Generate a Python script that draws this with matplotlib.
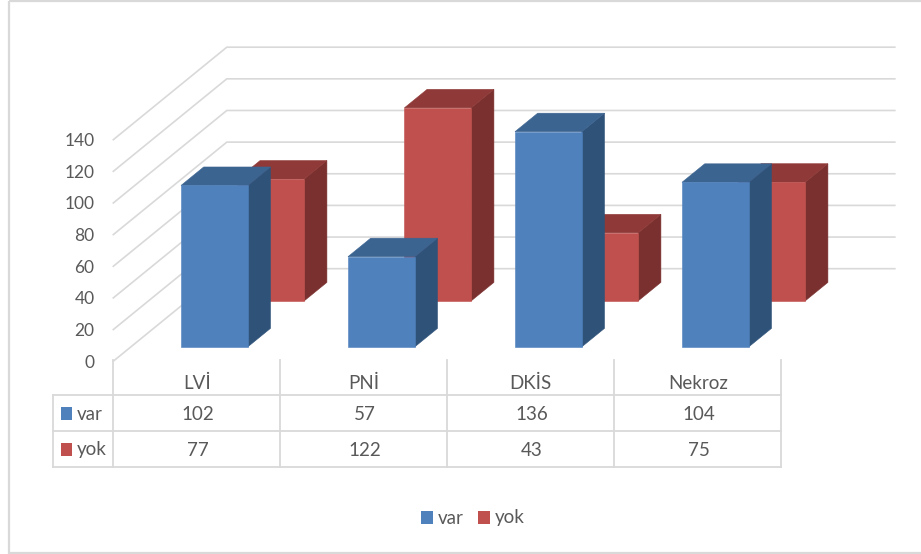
import matplotlib
matplotlib.use('Agg')
import matplotlib.pyplot as plt
from matplotlib.patches import Polygon, Rectangle

plt.rcParams['font.family'] = ['Lato', 'DejaVu Sans']

# Data
categories = ['LVİ', 'PNİ', 'DKİS', 'Nekroz']
var_values = [102, 57, 136, 104]
yok_values = [77, 122, 43, 75]
value_ticks = [0, 20, 40, 60, 80, 100, 120, 140]

# Colours
grid_color = '#D9D9D9'
text_color = '#595959'
var_colors = ('#4F81BD', '#3C6491', '#2F5279')  # front, top, side
yok_colors = ('#C0504D', '#8F3A38', '#7A302E')

# Oblique depth of the floor, in category and value units
depth_x = 113.5 / 167
depth_y = 92.5 / 1.582
bar_left = 0.3
bar_width = 0.4
bar_depth = 0.2


def shift(x, v, z):
    return x + z * depth_x, v + z * depth_y


def draw_bar(ax, i, value, z, colors):
    x0, x1 = i + bar_left, i + bar_left + bar_width
    z0, z1 = z, z + bar_depth
    front = [shift(x0, 0, z0), shift(x1, 0, z0), shift(x1, value, z0), shift(x0, value, z0)]
    top = [shift(x0, value, z0), shift(x1, value, z0), shift(x1, value, z1), shift(x0, value, z1)]
    side = [shift(x1, 0, z0), shift(x1, 0, z1), shift(x1, value, z1), shift(x1, value, z0)]
    for pts, c in zip((side, top, front), (colors[2], colors[1], colors[0])):
        ax.add_patch(Polygon(pts, closed=True, facecolor=c, edgecolor=c, lw=0.4,
                             clip_on=False, zorder=3))


fig = plt.figure(figsize=(9.21, 5.54), dpi=100, facecolor='white')

# Main axes: the front edge of the floor
ax = fig.add_axes([113.3 / 921, (554 - 361.2) / 554, 668 / 921, 221.5 / 554])
ax.patch.set_visible(False)
ax.set_xlim(0, 4)
ax.set_ylim(0, 140)
for s in ax.spines.values():
    s.set_visible(False)
ax.set_yticks(value_ticks)
ax.set_xticks([i + 0.5 for i in range(4)])
ax.set_xticklabels(categories)
ax.tick_params(axis='y', length=0, pad=13.5, labelsize=12.5, labelcolor=text_color)
ax.tick_params(axis='x', length=0, pad=10, labelsize=13.5, labelcolor=text_color)

# Gridlines run along the side wall and then across the back wall
for v in value_ticks:
    ax.plot([0, depth_x, 4 + depth_x], [v, v + depth_y, v + depth_y], color=grid_color,
            lw=1.2, clip_on=False, zorder=1, solid_joinstyle='miter')

for i, v in enumerate(yok_values):
    draw_bar(ax, i, v, 0.652, yok_colors)
for i, v in enumerate(var_values):
    draw_bar(ax, i, v, 0.155, var_colors)

# Overlay in pixel units for the frame, data table and legend
over = fig.add_axes([0, 0, 1, 1])
over.patch.set_visible(False)
over.set_xlim(0, 921)
over.set_ylim(554, 0)
over.axis('off')

over.add_patch(Rectangle((9, 1), 920, 551.8, fill=False, edgecolor=grid_color, lw=1.6))

col_edges = [113 + 167 * i for i in range(5)]
row_lines = [395, 431, 466.5]
for y in row_lines:
    over.plot([53, col_edges[-1]], [y, y], color=grid_color, lw=1.3)
over.plot([53, 53], [395, 466.5], color=grid_color, lw=1.3)
for x in col_edges:
    over.plot([x, x], [360, 466.5], color=grid_color, lw=1.3)

for row, (vals, name, colors, y) in enumerate(zip((var_values, yok_values), ('var', 'yok'),
                                                  (var_colors, yok_colors), (413, 449))):
    over.add_patch(Rectangle((61, y - 6.5), 11, 13, facecolor=colors[0], edgecolor='none'))
    over.text(76.5, y + 1, name, color=text_color, fontsize=13.5, va='center', ha='left')
    for i, v in enumerate(vals):
        over.text(col_edges[i] + 84.5, y + 1, str(v), color=text_color, fontsize=13.5,
                  va='center', ha='center')

# Legend under the table
for x_key, x_text, name, colors in ((421, 437.5, 'var', var_colors), (478, 495, 'yok', yok_colors)):
    over.add_patch(Rectangle((x_key, 511), 12, 13, facecolor=colors[0], edgecolor='none'))
    over.text(x_text, 518, name, color=text_color, fontsize=13.5, va='center', ha='left')

fig.savefig('out.png', dpi=100)
